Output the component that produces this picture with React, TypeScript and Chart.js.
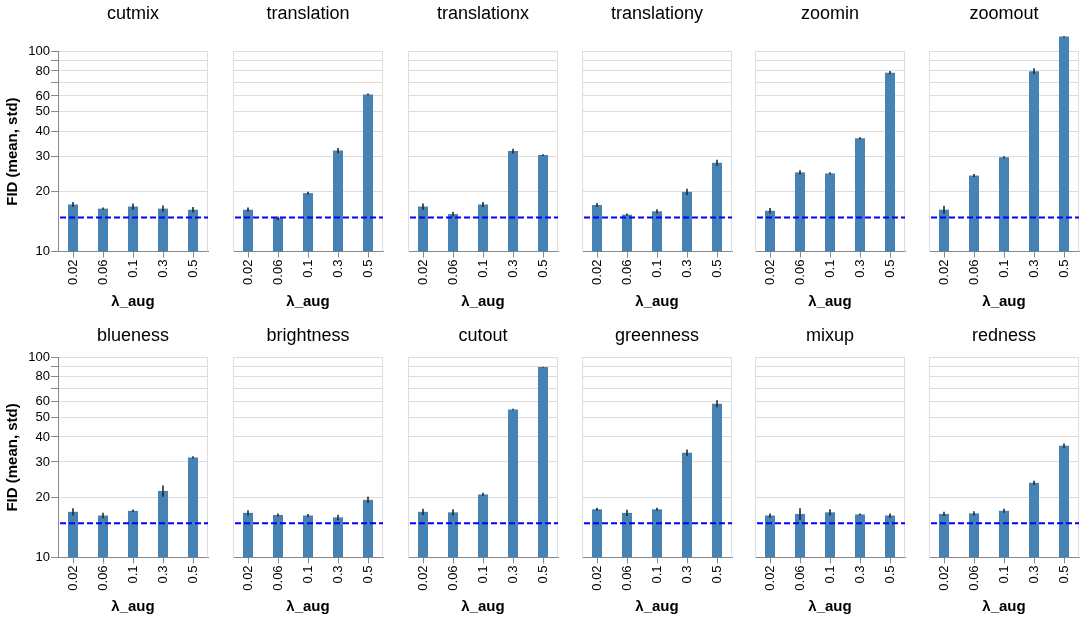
import React, { useEffect, useRef } from 'react';
import { Chart, registerables } from 'chart.js';

Chart.register(...registerables);
Chart.defaults.font.family = "'Liberation Sans', Arial, Helvetica, sans-serif";
Chart.defaults.color = '#000';

// ---------- data ----------
const lambdaLabels = ['0.02', '0.06', '0.1', '0.3', '0.5'];
const yTickValues = [10, 20, 30, 40, 50, 60, 70, 80, 90, 100];
const yTickUnlabeled = [70, 90];
const baselineFID = 14.8;

const cutmixMean = [17.2, 16.4, 16.8, 16.4, 16.2];
const cutmixStd = [0.5, 0.2, 0.6, 0.6, 0.5];
const translationMean = [16.2, 14.7, 19.6, 32.0, 61.0];
const translationStd = [0.4, 0.3, 0.3, 1.0, 0.7];
const translationxMean = [16.8, 15.4, 17.2, 31.8, 30.4];
const translationxStd = [0.6, 0.4, 0.5, 0.9, 0.3];
const translationyMean = [17.1, 15.3, 15.9, 19.9, 27.8];
const translationyStd = [0.4, 0.2, 0.4, 0.7, 1.0];
const zoominMean = [16.0, 24.9, 24.6, 36.9, 78.5];
const zoominStd = [0.5, 0.6, 0.3, 0.4, 1.5];
const zoomoutMean = [16.2, 24.0, 29.6, 79.8, 118.9];
const zoomoutStd = [0.75, 0.4, 0.4, 2.7, 0.8];
const bluenessMean = [16.9, 16.2, 17.1, 21.5, 31.6];
const bluenessStd = [0.7, 0.5, 0.25, 1.4, 0.4];
const brightnessMean = [16.7, 16.3, 16.2, 15.85, 19.4];
const brightnessStd = [0.5, 0.3, 0.3, 0.5, 0.7];
const cutoutMean = [16.9, 16.8, 20.65, 54.9, 89.5];
const cutoutStd = [0.6, 0.6, 0.4, 0.5, 0.4];
const greennessMean = [17.4, 16.7, 17.4, 33.4, 58.7];
const greennessStd = [0.3, 0.6, 0.3, 1.2, 2.4];
const mixupMean = [16.2, 16.5, 16.8, 16.4, 16.2];
const mixupStd = [0.4, 1.1, 0.6, 0.2, 0.4];
const rednessMean = [16.5, 16.6, 17.1, 23.6, 36.2];
const rednessStd = [0.4, 0.4, 0.4, 0.6, 0.9];

const panels = [
  { name: 'cutmix', mean: cutmixMean, std: cutmixStd },
  { name: 'translation', mean: translationMean, std: translationStd },
  { name: 'translationx', mean: translationxMean, std: translationxStd },
  { name: 'translationy', mean: translationyMean, std: translationyStd },
  { name: 'zoomin', mean: zoominMean, std: zoominStd },
  { name: 'zoomout', mean: zoomoutMean, std: zoomoutStd },
  { name: 'blueness', mean: bluenessMean, std: bluenessStd },
  { name: 'brightness', mean: brightnessMean, std: brightnessStd },
  { name: 'cutout', mean: cutoutMean, std: cutoutStd },
  { name: 'greenness', mean: greennessMean, std: greennessStd },
  { name: 'mixup', mean: mixupMean, std: mixupStd },
  { name: 'redness', mean: rednessMean, std: rednessStd },
];

// ---------- layout ----------
const PANEL_LEFTS = [58, 233, 408, 582, 755, 929];
const AXIS_W = 58;
const PLOT_W = 150;
const RIGHT_PAD = 6;
const ROWS = [
  { top: 0, height: 314, titlePadTop: 3, titlePadBottom: 27, xAxisH: 62.4 },
  { top: 314, height: 305, titlePadTop: 11, titlePadBottom: 10.8, xAxisH: 61.6 },
];

function Panel({ index }: { index: number }) {
  const ref = useRef<HTMLCanvasElement>(null);
  const p = panels[index];
  const col = index % 6;
  const row = ROWS[Math.floor(index / 6)];
  const first = col === 0;
  const width = AXIS_W + PLOT_W + RIGHT_PAD;

  useEffect(() => {
    if (!ref.current) return;
    const decor = {
      id: 'decor' + index,
      beforeDatasetsDraw(chart: any) {
        const { ctx, chartArea } = chart;
        ctx.save();
        ctx.strokeStyle = '#ddd';
        ctx.lineWidth = 1;
        const x = Math.round(chartArea.right) - 0.5;
        ctx.beginPath();
        ctx.moveTo(x, chartArea.top);
        ctx.lineTo(x, chartArea.bottom);
        ctx.stroke();
        ctx.restore();
      },
      afterDatasetsDraw(chart: any) {
        const { ctx, chartArea } = chart;
        const yScale = chart.scales.y;
        const meta = chart.getDatasetMeta(0);
        ctx.save();
        ctx.strokeStyle = 'rgba(40,40,40,0.8)';
        ctx.lineWidth = 2;
        meta.data.forEach((bar: any, i: number) => {
          const m = p.mean[i];
          const s = p.std[i];
          const y1 = yScale.getPixelForValue(m + s);
          const y2 = yScale.getPixelForValue(m - s);
          ctx.beginPath();
          ctx.moveTo(bar.x, y1);
          ctx.lineTo(bar.x, y2);
          ctx.stroke();
        });
        const yb = yScale.getPixelForValue(baselineFID);
        ctx.strokeStyle = '#0000ff';
        ctx.lineWidth = 2;
        ctx.setLineDash([6, 3]);
        ctx.beginPath();
        ctx.moveTo(chartArea.left + 2, yb);
        ctx.lineTo(chartArea.right, yb);
        ctx.stroke();
        ctx.restore();
      },
    };

    const chart = new Chart(ref.current, {
      type: 'bar',
      data: {
        labels: lambdaLabels,
        datasets: [
          {
            data: p.mean,
            backgroundColor: '#4682b4',
            borderWidth: 0,
            barPercentage: 1 / 3,
            categoryPercentage: 1,
            clip: false as any,
          },
        ],
      },
      options: {
        animation: false,
        responsive: false,
        layout: { padding: { left: 0, right: RIGHT_PAD, top: 0, bottom: 0 } },
        plugins: {
          legend: { display: false },
          tooltip: { enabled: false },
          title: {
            display: true,
            fullSize: false,
            text: p.name,
            color: '#000',
            font: { size: 18, weight: 'normal' },
            padding: { top: row.titlePadTop, bottom: row.titlePadBottom },
          },
        },
        scales: {
          x: {
            type: 'category',
            offset: true,
            grid: {
              drawOnChartArea: false,
              drawTicks: true,
              tickLength: 6,
              tickColor: '#888',
              offset: false,
            },
            border: { display: true, color: '#888', width: 1 },
            ticks: {
              minRotation: 90,
              maxRotation: 90,
              autoSkip: false,
              padding: 2,
              color: '#000',
              font: { size: 13 },
            },
            title: {
              display: true,
              text: 'λ_aug',
              color: '#000',
              font: { size: 15, weight: 'bold' },
              padding: { top: 0, bottom: 3 },
            },
            afterFit: (s: any) => {
              s.height = row.xAxisH;
            },
          },
          y: {
            type: 'logarithmic',
            min: 10,
            max: 100,
            afterBuildTicks: (s: any) => {
              s.ticks = yTickValues.map((v) => ({ value: v }));
            },
            grid: {
              color: (c: any) => (c.tick && c.tick.value === 10 ? 'rgba(0,0,0,0)' : '#ddd'),
              drawTicks: first,
              tickLength: 7,
              tickColor: '#888',
            },
            border: { display: true, color: first ? '#888' : '#ddd', width: 1 },
            ticks: {
              display: first,
              autoSkip: false,
              padding: 1,
              color: '#000',
              font: { size: 13 },
              callback: (v: any) => (yTickUnlabeled.includes(Number(v)) ? '' : String(v)),
            },
            title: {
              display: first,
              text: 'FID (mean, std)',
              color: '#000',
              font: { size: 15, weight: 'bold' },
              padding: { top: 4, bottom: 0 },
            },
            afterFit: (s: any) => {
              s.width = AXIS_W;
            },
          },
        },
      } as any,
      plugins: [decor],
    });
    return () => chart.destroy();
  }, [index]);

  return (
    <canvas
      ref={ref}
      width={width}
      height={row.height}
      style={{
        position: 'absolute',
        left: PANEL_LEFTS[col] - AXIS_W,
        top: row.top,
        width,
        height: row.height,
      }}
    />
  );
}

export default function App() {
  return (
    <div
      style={{
        position: 'absolute',
        left: 0,
        top: 0,
        width: 1086,
        height: 619,
        overflow: 'hidden',
        background: '#fff',
      }}
    >
      {panels.map((_, i) => (
        <Panel key={i} index={i} />
      ))}
    </div>
  );
}
